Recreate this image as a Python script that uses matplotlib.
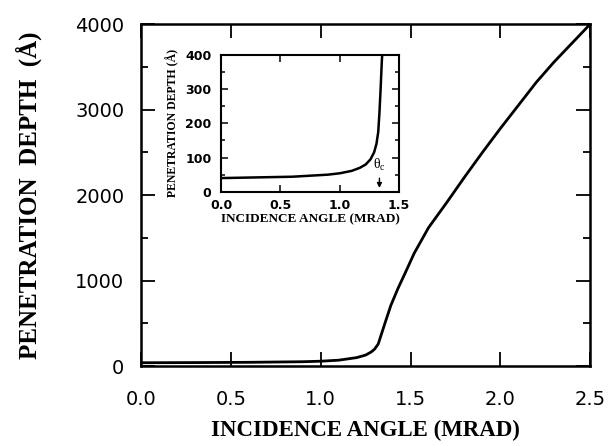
import numpy as np
import matplotlib.pyplot as plt
from matplotlib.ticker import MultipleLocator

# penetration depth vs incidence angle
angle = [0, 0.3, 0.6, 0.9, 1.0, 1.1, 1.2, 1.25, 1.28, 1.30, 1.32, 1.34, 1.36, 1.39,
         1.43, 1.47, 1.52, 1.6, 1.7, 1.8, 1.9, 2.0, 2.1, 2.2, 2.3, 2.4, 2.5]
depth = [40, 42, 45, 52, 58, 70, 100, 130, 165, 200, 260, 390, 520, 710,
         910, 1090, 1320, 1620, 1910, 2210, 2500, 2780, 3050, 3320, 3560, 3780, 4000]

# inset: zoom on the region below the critical angle
inset_angle = [0, 0.3, 0.6, 0.9, 1.0, 1.1, 1.17, 1.22, 1.26, 1.29, 1.31, 1.325,
               1.335, 1.345, 1.355, 1.362]
inset_depth = [40, 42, 44, 50, 54, 61, 70, 80, 95, 115, 140, 175,
               230, 300, 380, 420]
theta_c = 1.335

serif = 'Liberation Serif'
sans = 'DejaVu Sans'

fig = plt.figure(figsize=(6.11, 4.46), dpi=100)
ax = fig.add_axes([0.231, 0.179, 0.735, 0.767])
ax.plot(angle, depth, color='black', lw=2)
ax.set_xlim(0, 2.5)
ax.set_ylim(0, 4000)
ax.xaxis.set_major_locator(MultipleLocator(0.5))
ax.yaxis.set_major_locator(MultipleLocator(1000))
ax.yaxis.set_minor_locator(MultipleLocator(500))
ax.tick_params(which='both', direction='in', top=True, right=True, width=1.3)
ax.tick_params(which='major', length=10, labelsize=14)
ax.tick_params(axis='x', pad=17)
ax.tick_params(axis='y', pad=12)
ax.tick_params(which='minor', length=5)
ax.set_xticklabels([f'{v:.1f}' for v in ax.get_xticks()], family=sans)
ax.set_yticklabels([f'{int(v)}' for v in ax.get_yticks()], family=sans)
for s in ax.spines.values():
    s.set_linewidth(1.8)
ax.set_xlabel('INCIDENCE ANGLE (MRAD)', family=serif, weight='bold', fontsize=16.5, labelpad=8)
ax.set_ylabel('PENETRATION  DEPTH  (Å)', family=serif, weight='bold', fontsize=18, labelpad=24)

# inset
ins = fig.add_axes([0.362, 0.570, 0.291, 0.307])
ins.plot(inset_angle, inset_depth, color='black', lw=1.8)
ins.set_xlim(0, 1.5)
ins.set_ylim(0, 400)
ins.xaxis.set_major_locator(MultipleLocator(0.5))
ins.yaxis.set_major_locator(MultipleLocator(100))
ins.yaxis.set_minor_locator(MultipleLocator(50))
ins.tick_params(which='both', direction='in', top=True, right=True, width=1.1)
ins.tick_params(which='major', length=5, labelsize=9)
ins.tick_params(axis='x', pad=5)
ins.tick_params(axis='y', pad=7)
ins.tick_params(which='minor', length=3)
ins.set_xticklabels([f'{v:.1f}' for v in ins.get_xticks()], family=sans, weight='bold')
ins.set_yticklabels([f'{int(v)}' for v in ins.get_yticks()], family=sans, weight='bold')
for s in ins.spines.values():
    s.set_linewidth(1.5)
ins.set_xlabel('INCIDENCE ANGLE (MRAD)', family=serif, weight='bold', fontsize=9.5, labelpad=1)
ins.set_ylabel('PENETRATION DEPTH (Å)', family=serif, weight='bold', fontsize=8.5, labelpad=4)
ins.annotate('', xy=(theta_c, 3), xytext=(theta_c, 48),
             arrowprops=dict(arrowstyle='-|>', color='black', lw=1, mutation_scale=7))
ins.text(theta_c, 55, r'$\mathregular{\theta_c}$', ha='center', va='bottom', fontsize=10, family=serif)

fig.savefig('out.png', dpi=100)
